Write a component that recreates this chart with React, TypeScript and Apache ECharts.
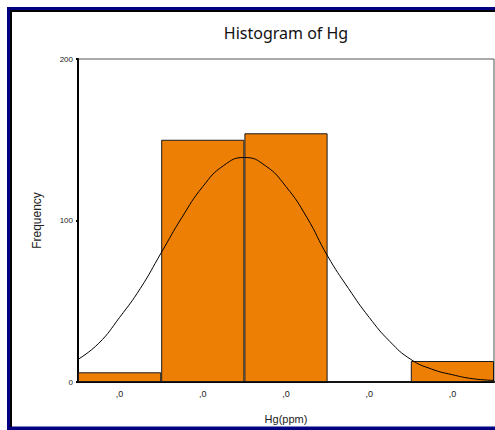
import React, { useEffect, useRef } from "react";
import * as echarts from "echarts";

const binLabels = [",0", ",0", ",0", ",0", ",0"];
const binCounts = [6, 150, 154, 0, 13];
const curveX = [0, 0.25, 0.5, 0.75, 1, 1.25, 1.5, 1.75, 2, 2.25, 2.5, 2.75, 3, 3.25, 3.5, 3.75, 4, 4.25, 4.5, 4.75, 5];
const curveY = [14, 24, 40, 58, 80, 102, 121, 134, 139, 134, 121, 102, 78, 58, 40, 25, 14, 8, 4.5, 2, 1];
const yTicks = [0, 100, 200];

const TXT = "'Liberation Sans', Arial, sans-serif";

export default function App() {
  const ref = useRef<HTMLDivElement>(null);
  useEffect(() => {
    if (!ref.current) return;
    const chart = echarts.init(ref.current, undefined, { renderer: "svg" });
    const navy = "#000080";
    chart.setOption({
      animation: false,
      backgroundColor: "#ffffff",
      grid: {
        left: 78,
        right: 1,
        top: 59,
        bottom: 48,
        containLabel: false,
        outerBoundsMode: "none",
        show: true,
        borderColor: "#555555",
        borderWidth: 1,
        backgroundColor: "transparent",
      },
      xAxis: [
        {
          type: "category",
          data: binLabels,
          boundaryGap: true,
          name: "Hg(ppm)",
          nameLocation: "middle",
          nameGap: 31,
          nameTextStyle: { fontFamily: TXT, fontSize: 11, color: "#222" },
          axisLine: { lineStyle: { color: "#000", width: 2 } },
          axisTick: { alignWithLabel: true, length: 3, lineStyle: { color: "#000", width: 2 } },
          axisLabel: { fontFamily: TXT, fontSize: 9, color: "#222", margin: 7 },
          splitLine: { show: false },
        },
        {
          type: "value",
          min: 0,
          max: 5,
          show: false,
        },
      ],
      yAxis: {
        type: "value",
        min: 0,
        max: 200,
        interval: 100,
        name: "Frequency",
        nameLocation: "middle",
        nameRotate: 90,
        nameGap: 35,
        nameTextStyle: { fontFamily: TXT, fontSize: 12, color: "#222" },
        axisLine: { show: true, lineStyle: { color: "#000", width: 2 } },
        axisTick: { show: true, length: 2, lineStyle: { color: "#000", width: 2 } },
        axisLabel: {
          fontFamily: TXT,
          fontSize: 8,
          color: "#222",
          margin: 5,
          formatter: (v: number) => (yTicks.includes(v) ? String(v) : ""),
        },
        splitLine: { show: false },
      },
      series: [
        {
          type: "bar",
          xAxisIndex: 0,
          data: binCounts,
          barWidth: "100%",
          barGap: "0%",
          barCategoryGap: "0%",
          itemStyle: { color: "#EE7F05", borderColor: "#1a1a1a", borderWidth: 1 },
          z: 2,
        },
        {
          type: "line",
          xAxisIndex: 1,
          data: curveX.map((x, i) => [x, curveY[i]]),
          smooth: true,
          symbol: "none",
          lineStyle: { color: "#000", width: 1 },
          z: 3,
        },
      ],
      graphic: [
        {
          type: "text",
          x: 286,
          y: 33,
          style: {
            text: "Histogram of Hg",
            textAlign: "center",
            textVerticalAlign: "middle",
            fontFamily: "'Noto Sans', 'DejaVu Sans', sans-serif",
            fontSize: 16,
            fill: "#111",
          },
          z: 10,
        },
        { type: "rect", shape: { x: 7, y: 7, width: 488, height: 3 }, style: { fill: navy }, z: 100 },
        { type: "rect", shape: { x: 7, y: 7, width: 3, height: 423 }, style: { fill: navy }, z: 100 },
        { type: "rect", shape: { x: 10, y: 10, width: 485, height: 2 }, style: { fill: "#000" }, z: 100 },
        { type: "rect", shape: { x: 10, y: 10, width: 2, height: 417 }, style: { fill: "#000" }, z: 100 },
        { type: "rect", shape: { x: 7, y: 427, width: 488, height: 3 }, style: { fill: navy }, z: 100 },
        { type: "rect", shape: { x: 12, y: 426, width: 483, height: 1 }, style: { fill: "#8080c0" }, z: 100 },
      ],
    });
    return () => chart.dispose();
  }, []);
  return (
    <div
      ref={ref}
      style={{ position: "absolute", left: 0, top: 0, width: 495, height: 430 }}
    />
  );
}
